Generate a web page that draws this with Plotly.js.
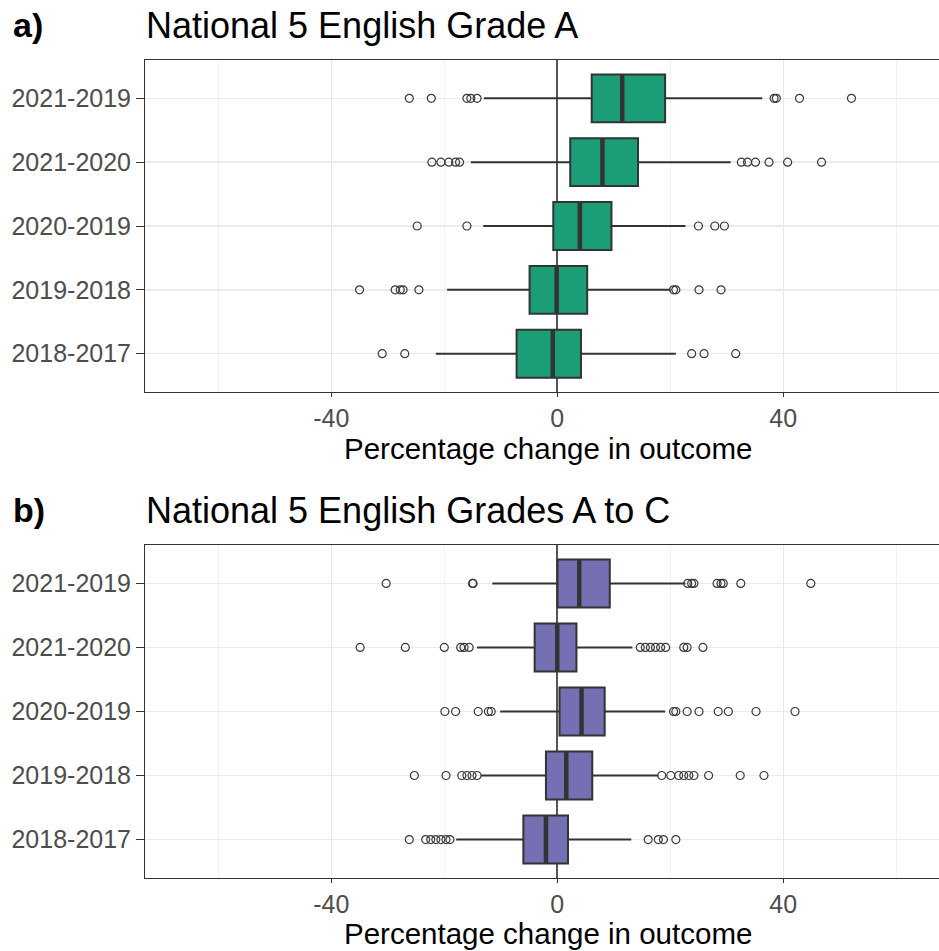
<!DOCTYPE html>
<html>
<head>
<meta charset="utf-8">
<script src="https://cdn.plot.ly/plotly-3.0.1.min.js"></script>
<style>html,body{margin:0;padding:0;background:#fff;}#chart{width:939px;height:951px;}</style>
</head>
<body>
<div id="chart"></div>
<script>
// Categories (top to bottom)
const categories = ['2021-2019', '2021-2020', '2020-2019', '2019-2018', '2018-2017'];
const tickValsX = [-40, 0, 40];
const tickTextX = ['-40', '0', '40'];

// Panel a: National 5 English Grade A — box statistics
const a_q1 = [6.1, 2.3, -0.7, -4.9, -7.2];
const a_median = [11.5, 8.0, 4.0, -0.1, -0.8];
const a_q3 = [19.1, 14.3, 9.6, 5.3, 4.2];
const a_lower = [-13.0, -15.3, -13.1, -19.5, -21.5];
const a_upper = [36.3, 30.7, 22.7, 20.1, 21.0];
// Panel a outliers
const a_out_2021_2019 = [-26.2, -22.3, -16.0, -15.3, -14.2, 38.4, 38.8, 42.9, 52.1];
const a_out_2021_2020 = [-22.2, -20.6, -19.2, -18.0, -17.3, 32.6, 33.7, 35.1, 37.5, 40.8, 46.8];
const a_out_2020_2019 = [-24.8, -16.0, 25.0, 27.9, 29.6];
const a_out_2019_2018 = [-35.0, -28.7, -27.8, -27.3, -24.5, 20.6, 21.0, 25.1, 29.0];
const a_out_2018_2017 = [-31.0, -27.0, 23.8, 26.0, 31.6];

// Panel b: National 5 English Grades A to C — box statistics
const b_q1 = [0.05, -4.0, 0.4, -2.0, -6.0];
const b_median = [3.9, 0.0, 4.3, 1.6, -2.0];
const b_q3 = [9.3, 3.4, 8.4, 6.2, 1.9];
const b_lower = [-11.5, -14.2, -10.1, -13.5, -17.9];
const b_upper = [22.7, 13.3, 19.1, 17.9, 13.1];
// Panel b outliers
const b_out_2021_2019 = [-30.3, -15.0, -14.9, 23.1, 23.8, 24.2, 28.3, 29.0, 29.4, 32.5, 44.9];
const b_out_2021_2020 = [-34.9, -26.9, -20.0, -17.1, -16.5, -15.6, 14.7, 15.6, 16.5, 17.4, 18.3, 19.2, 22.4, 23.0, 25.8];
const b_out_2020_2019 = [-19.9, -18.0, -14.0, -12.2, -11.7, 20.6, 21.0, 23.0, 25.1, 28.5, 30.3, 35.2, 42.1];
const b_out_2019_2018 = [-25.3, -19.7, -16.9, -16.0, -15.1, -14.2, 18.5, 20.1, 21.5, 22.4, 23.3, 24.2, 26.8, 32.4, 36.6];
const b_out_2018_2017 = [-26.2, -23.3, -22.4, -21.5, -20.6, -19.7, -19.0, 16.1, 17.9, 18.8, 21.0];

const panelTitles = ['National 5 English Grade A', 'National 5 English Grades A to C'];
const panelTags = ['a)', 'b)'];
const xTitle = 'Percentage change in outcome';

const colA = '#1b9e77';
const colB = '#7570b3';
const ink = '#333333';

function outlierXY(lists) {
  const xs = [], ys = [];
  lists.forEach((vals, i) => vals.forEach(v => { xs.push(v); ys.push(categories[i]); }));
  return {x: xs, y: ys};
}

function panelTraces(q1, med, q3, lo, hi, outs, color, xa, ya) {
  const o = outlierXY(outs);
  return [
    {
      type: 'box', orientation: 'h', y: categories,
      q1: q1, median: med, q3: q3, lowerfence: lo, upperfence: hi,
      boxpoints: false, width: 0.75, whiskerwidth: 0,
      fillcolor: color, line: {color: ink, width: 2},
      xaxis: xa, yaxis: ya, showlegend: false, hoverinfo: 'skip'
    },
    {
      type: 'scatter', mode: 'markers', x: med, y: categories,
      marker: {symbol: 'line-ns', size: 33.5, color: ink, line: {color: ink, width: 4.5}},
      xaxis: xa, yaxis: ya, showlegend: false, hoverinfo: 'skip'
    },
    {
      type: 'scatter', mode: 'markers', x: o.x, y: o.y,
      marker: {symbol: 'circle-open', size: 8, color: '#3a3a3a', line: {width: 1.2}},
      xaxis: xa, yaxis: ya, showlegend: false, hoverinfo: 'skip'
    }
  ];
}

const data = [].concat(
  panelTraces(a_q1, a_median, a_q3, a_lower, a_upper,
    [a_out_2021_2019, a_out_2021_2020, a_out_2020_2019, a_out_2019_2018, a_out_2018_2017], colA, 'x', 'y'),
  panelTraces(b_q1, b_median, b_q3, b_lower, b_upper,
    [b_out_2021_2019, b_out_2021_2020, b_out_2020_2019, b_out_2019_2018, b_out_2018_2017], colB, 'x2', 'y2')
);

const fontFam = '"Liberation Sans", Arial, sans-serif';

function xAxis(anchor) {
  return {
    anchor: anchor, domain: [0, 1], range: [-73, 67.6],
    tickmode: 'array', tickvals: tickValsX, ticktext: tickTextX,
    ticks: 'outside', ticklen: 4, tickwidth: 1, tickcolor: ink,
    tickfont: {family: fontFam, size: 25, color: '#4d4d4d'},
    showgrid: true, gridcolor: '#e8e8e8', gridwidth: 1,
    minor: {tickmode: 'array', tickvals: [-60, -20, 20, 60], showgrid: true, gridcolor: '#f3f3f3', gridwidth: 1, ticks: ''},
    zeroline: true, zerolinecolor: '#555555', zerolinewidth: 1.6,
    showline: true, mirror: true, linecolor: ink, linewidth: 1,
    automargin: false, fixedrange: true
  };
}
function yAxis(anchor, domain) {
  return {
    anchor: anchor, domain: domain, type: 'category',
    categoryorder: 'array', categoryarray: categories, range: [4.6, -0.6],
    ticks: 'outside', ticklen: 8, tickwidth: 1, tickcolor: ink,
    tickfont: {family: fontFam, size: 25, color: '#4d4d4d'},
    showgrid: true, gridcolor: '#ebebeb', gridwidth: 1.5,
    showline: true, mirror: true, linecolor: ink, linewidth: 1,
    automargin: false, fixedrange: true
  };
}

function textAnn(text, x, y, size, anchor) {
  return {text: text, xref: 'paper', yref: 'paper', x: x, y: y, xanchor: anchor, yanchor: 'middle',
          showarrow: false, borderpad: 0, font: {family: fontFam, size: size, color: '#000'}};
}

const layout = {
  width: 939, height: 951,
  margin: {l: 145, r: 0, t: 0, b: 0},
  paper_bgcolor: '#ffffff', plot_bgcolor: '#ffffff',
  showlegend: false,
  font: {family: fontFam},
  xaxis: xAxis('y'),
  yaxis: yAxis('x', [0.5878, 0.9369]),
  xaxis2: xAxis('y2'),
  yaxis2: yAxis('x2', [0.0768, 0.4269]),
  annotations: [
    textAnn('<b>' + panelTags[0] + '</b>', -0.1675, 0.9737, 34, 'left'),
    textAnn(panelTitles[0], 0.0, 0.9737, 36, 'left'),
    textAnn(xTitle, 0.507, 0.5279, 29.5, 'center'),
    textAnn('<b>' + panelTags[1] + '</b>', -0.1675, 0.4637, 34, 'left'),
    textAnn(panelTitles[1], 0.0, 0.4637, 36, 'left'),
    textAnn(xTitle, 0.507, 0.0179, 29.5, 'center')
  ]
};

Plotly.newPlot('chart', data, layout, {displayModeBar: false, staticPlot: true});
</script>
</body>
</html>
